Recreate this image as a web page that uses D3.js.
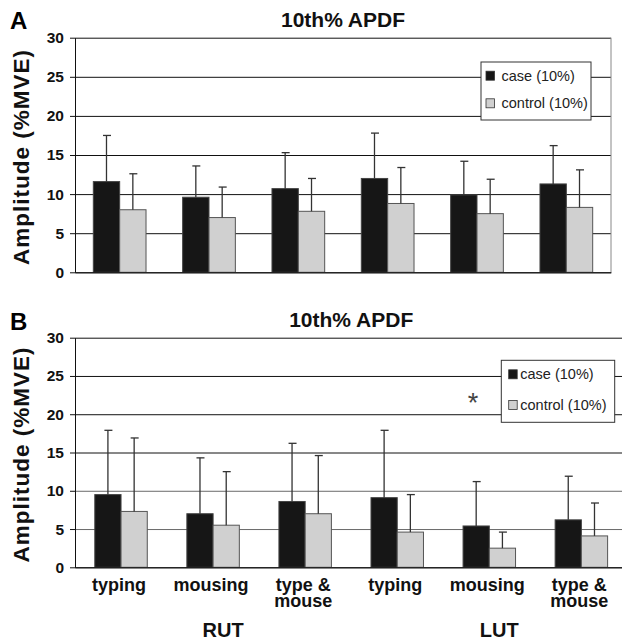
<!DOCTYPE html>
<html>
<head>
<meta charset="utf-8">
<script src="https://cdn.jsdelivr.net/npm/d3@7"></script>
<style>
  body { margin: 0; background: #fff; }
  svg { display: block; font-family: "Liberation Sans", Arial, sans-serif; }
</style>
</head>
<body>
<div id="chart"></div>
<script>
// data
const categories = ['typing', 'mousing', 'type &\nmouse', 'typing', 'mousing', 'type &\nmouse']
const groupLabels = ['RUT', 'LUT']
const seriesNames = ['case (10%)', 'control (10%)']
const yTicks = [0, 5, 10, 15, 20, 25, 30]

// panel A - means and top of error bars
const caseA = [11.6, 9.6, 10.7, 12.0, 9.9, 11.3]
const caseAUpper = [17.5, 13.6, 15.3, 17.8, 14.2, 16.2]
const controlA = [8.0, 7.0, 7.8, 8.8, 7.5, 8.3]
const controlAUpper = [12.6, 10.9, 12.0, 13.4, 11.9, 13.1]

// panel B
const caseB = [9.5, 7.0, 8.6, 9.1, 5.4, 6.2]
const caseBUpper = [17.9, 14.3, 16.2, 17.9, 11.2, 11.9]
const controlB = [7.3, 5.5, 7.0, 4.6, 2.5, 4.1]
const controlBUpper = [16.9, 12.5, 14.6, 9.5, 4.6, 8.4]

const colors = ['#161616', '#d0d0d0']
const strokes = ['#444', '#555']
const font = '"Liberation Sans", Arial, sans-serif'

const svg = d3.select('#chart').append('svg')
    .attr('width', 622)
    .attr('height', 644)

function drawPanel(p) {
    const g = svg.append('g')

    const y = d3.scaleLinear()
        .domain([0, 30])
        .range([p.bottom, p.top])

    const x = d3.scaleBand()
        .domain(d3.range(categories.length))
        .range([p.left, p.right])
        .paddingInner(p.pad)
        .paddingOuter(p.pad / 2)

    const xs = d3.scaleBand()
        .domain([0, 1])
        .range([0, x.bandwidth()])

    // panel letter + title
    g.append('text')
        .attr('x', 10).attr('y', p.letterY)
        .attr('font-size', 24).attr('font-weight', 'bold')
        .text(p.letter)
    g.append('text')
        .attr('x', (p.left + p.right) / 2).attr('y', p.top - 11)
        .attr('text-anchor', 'middle')
        .attr('font-size', 21).attr('font-weight', 'bold')
        .attr('fill', '#111')
        .text('10th% APDF')

    // gridlines
    g.append('g')
        .attr('transform', `translate(${p.left},0)`)
        .call(d3.axisLeft(y).tickValues(yTicks).tickSize(-(p.right - p.left)).tickFormat(''))
        .call(a => a.select('.domain').remove())
        .call(a => a.selectAll('line')
            .attr('stroke', d => (p.greyGrid && d > 0 && d <= 10) ? '#6a6a6a' : '#111')
            .attr('stroke-width', 1))

    if (p.rightBorder) {
        g.append('line')
            .attr('x1', p.right).attr('x2', p.right)
            .attr('y1', p.top).attr('y2', p.bottom)
            .attr('stroke', '#888')
    }

    // bars
    const series = [
        { vals: p.caseVals, upper: p.caseUpper },
        { vals: p.ctrlVals, upper: p.ctrlUpper }
    ]
    series.forEach((s, si) => {
        const bars = g.append('g')
        bars.selectAll('rect')
            .data(s.vals)
            .join('rect')
            .attr('x', (d, i) => x(i) + xs(si))
            .attr('y', d => y(d))
            .attr('width', xs.bandwidth())
            .attr('height', d => y(0) - y(d))
            .attr('fill', colors[si])
            .attr('stroke', strokes[si])
            .attr('stroke-width', 1)

        const errs = g.append('g')
            .attr('stroke', '#333')
            .attr('stroke-width', 1.3)
        errs.selectAll('line.v')
            .data(s.upper)
            .join('line')
            .attr('class', 'v')
            .attr('x1', (d, i) => x(i) + xs(si) + xs.bandwidth() / 2)
            .attr('x2', (d, i) => x(i) + xs(si) + xs.bandwidth() / 2)
            .attr('y1', (d, i) => y(s.vals[i]))
            .attr('y2', d => y(d))
        errs.selectAll('line.c')
            .data(s.upper)
            .join('line')
            .attr('class', 'c')
            .attr('x1', (d, i) => x(i) + xs(si) + xs.bandwidth() / 2 - 3.5)
            .attr('x2', (d, i) => x(i) + xs(si) + xs.bandwidth() / 2 + 4.5)
            .attr('y1', d => y(d))
            .attr('y2', d => y(d))
    })

    // y axis
    g.append('g')
        .attr('transform', `translate(${p.left},0)`)
        .call(d3.axisLeft(y).tickValues(yTicks).tickSize(5).tickSizeOuter(0).tickPadding(6))
        .call(a => a.select('.domain').attr('stroke', '#111'))
        .call(a => a.selectAll('.tick line').attr('stroke', '#111'))
        .call(a => a.selectAll('text')
            .attr('font-family', font)
            .attr('font-size', 15.5)
            .attr('font-weight', 'bold')
            .attr('fill', '#111'))

    // x axis line
    g.append('g')
        .attr('transform', `translate(0,${p.bottom})`)
        .call(d3.axisBottom(x).tickSize(0).tickFormat(''))
        .call(a => a.select('.domain').attr('stroke', '#111'))

    // y title
    g.append('text')
        .attr('transform', `translate(29,${(p.top + p.bottom) / 2 + 2}) rotate(-90)`)
        .attr('text-anchor', 'middle')
        .attr('font-size', 22.5).attr('font-weight', 'bold')
        .attr('letter-spacing', 1)
        .attr('fill', '#111')
        .text('Amplitude (%MVE)')

    // category labels (each line its own text)
    if (p.labels) {
        const lab = g.append('g')
            .attr('font-size', 18).attr('font-weight', 'bold')
            .attr('text-anchor', 'middle').attr('fill', '#111')
        categories.forEach((c, i) => {
            c.split('\n').forEach((t, j) => {
                lab.append('text')
                    .attr('x', x(i) + x.bandwidth() / 2 - 2)
                    .attr('y', p.bottom + 23.5 + j * 16)
                    .text(t)
            })
        })
        g.append('g')
            .attr('font-size', 20).attr('font-weight', 'bold')
            .attr('text-anchor', 'middle').attr('fill', '#111')
            .selectAll('text')
            .data(groupLabels)
            .join('text')
            .attr('x', (d, i) => (x(i * 3) + x(i * 3 + 2) + x.bandwidth()) / 2 + 10)
            .attr('y', 637)
            .text(d => d)
    }

    // star
    if (p.star) {
        g.append('text')
            .attr('x', p.star[0]).attr('y', p.star[1])
            .attr('text-anchor', 'middle')
            .attr('font-size', 27).attr('fill', '#444')
            .text('*')
    }

    // legend
    const L = p.legend
    const leg = g.append('g')
    leg.append('rect')
        .attr('x', L.x).attr('y', L.y)
        .attr('width', L.w).attr('height', L.h)
        .attr('fill', '#fff').attr('stroke', '#333').attr('stroke-width', 1)
    seriesNames.forEach((name, i) => {
        const cy = L.y + L.rowY[i]
        leg.append('rect')
            .attr('x', L.x + L.sx).attr('y', cy - 4.5)
            .attr('width', 8.5).attr('height', 9)
            .attr('fill', colors[i]).attr('stroke', '#333').attr('stroke-width', 0.8)
        leg.append('text')
            .attr('x', L.x + L.tx).attr('y', cy + 5)
            .attr('font-size', 14.5).attr('fill', '#222')
            .text(name)
    })
}

drawPanel({
    letter: 'A', letterY: 29,
    top: 37.7, bottom: 272.3, left: 75, right: 611, pad: 0.41,
    caseVals: caseA, caseUpper: caseAUpper, ctrlVals: controlA, ctrlUpper: controlAUpper,
    rightBorder: true, labels: false,
    legend: { x: 481, y: 62, w: 110, h: 58, sx: 5, tx: 20.5, rowY: [13.7, 41.3] }
})

drawPanel({
    letter: 'B', letterY: 330,
    top: 337.7, bottom: 567.3, left: 75, right: 627.4, pad: 0.43,
    caseVals: caseB, caseUpper: caseBUpper, ctrlVals: controlB, ctrlUpper: controlBUpper,
    greyGrid: true, labels: true, star: [473, 412],
    legend: { x: 501.3, y: 360.3, w: 113.4, h: 62, sx: 7.4, tx: 19, rowY: [14, 44.7] }
})
</script>
</body>
</html>
